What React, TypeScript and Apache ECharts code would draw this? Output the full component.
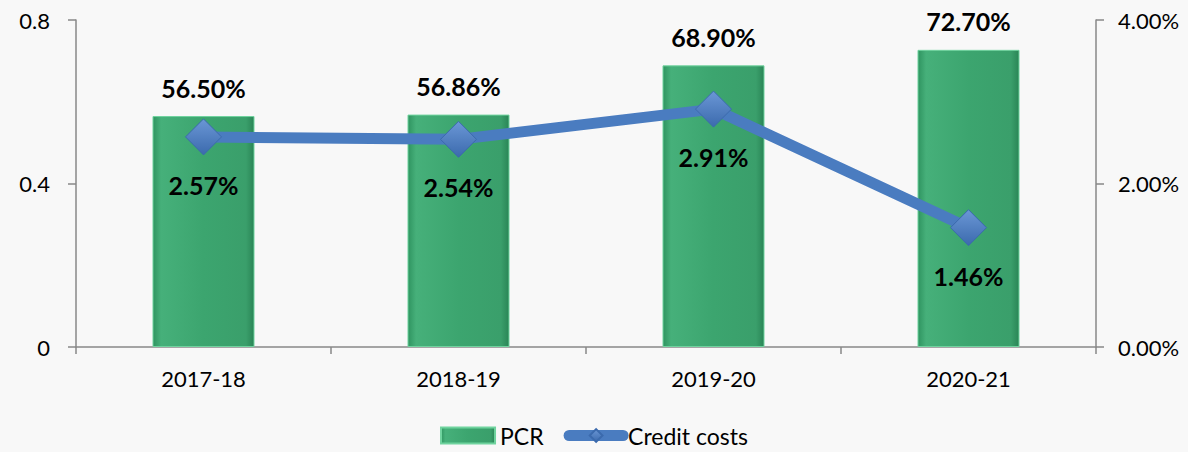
import React, { useEffect, useRef } from "react";
import * as echarts from "echarts";

const categories = ["2017-18", "2018-19", "2019-20", "2020-21"];
const pcrValues = [0.565, 0.5686, 0.689, 0.727];
const creditCosts = [2.57, 2.54, 2.91, 1.46];
const leftTicks = { min: 0, max: 0.8, interval: 0.4 };
const rightTicks = { min: 0, max: 4, interval: 2 };

const FONT = "Lato, 'Open Sans', sans-serif";

export default function App() {
  const ref = useRef<HTMLDivElement>(null);
  useEffect(() => {
    if (!ref.current) return;
    const chart = echarts.init(ref.current, undefined, { renderer: "svg" });
    chart.setOption({
      animation: false,
      backgroundColor: "#f8f8f8",
      textStyle: { fontFamily: FONT },
      grid: { left: 76, right: 92, top: 20, bottom: 105, containLabel: false },
      legend: {
        bottom: 0,
        left: "center",
        itemWidth: 54,
        itemHeight: 16,
        itemGap: 20,
        textStyle: { fontSize: 23, color: "#000", fontFamily: FONT },
        data: [
          { name: "PCR", icon: "rect" },
          { name: "Credit costs", lineStyle: { width: 11, color: "#4a7cc0", cap: "round" } },
        ],
      },
      xAxis: {
        type: "category",
        data: categories,
        axisLine: { lineStyle: { color: "#888", width: 1.5 } },
        axisTick: { show: true, length: 7, lineStyle: { color: "#888", width: 1.5 } },
        axisLabel: { fontSize: 22, color: "#000", margin: 20, fontFamily: FONT },
      },
      yAxis: [
        {
          type: "value",
          min: leftTicks.min,
          max: leftTicks.max,
          interval: leftTicks.interval,
          splitLine: { show: false },
          axisLine: { show: true, lineStyle: { color: "#888", width: 1.5 } },
          axisTick: { show: true, length: 8, lineStyle: { color: "#888", width: 1.5 } },
          axisLabel: { fontSize: 22, color: "#000", margin: 26, fontFamily: FONT },
        },
        {
          type: "value",
          min: rightTicks.min,
          max: rightTicks.max,
          interval: rightTicks.interval,
          splitLine: { show: false },
          axisLine: { show: true, lineStyle: { color: "#888", width: 1.5 } },
          axisTick: { show: true, length: 8, lineStyle: { color: "#888", width: 1.5 } },
          axisLabel: {
            fontSize: 22,
            color: "#000",
            margin: 22,
            fontFamily: FONT,
            formatter: (v: number) => v.toFixed(2) + "%",
          },
        },
      ],
      series: [
        {
          name: "PCR",
          type: "bar",
          yAxisIndex: 0,
          barWidth: "40%",
          data: pcrValues,
          itemStyle: {
            color: new echarts.graphic.LinearGradient(0, 0, 1, 0, [
              { offset: 0, color: "#2f9460" },
              { offset: 0.08, color: "#46b07a" },
              { offset: 0.5, color: "#3ca56f" },
              { offset: 0.92, color: "#3a9f6b" },
              { offset: 1, color: "#2a8556" },
            ]),
            borderColor: "#6fd39e",
            borderWidth: 1,
          },
          label: {
            show: true,
            position: "top",
            distance: 16,
            fontSize: 25,
            fontWeight: "bold",
            color: "#000",
            fontFamily: FONT,
            formatter: (p: any) => (p.value * 100).toFixed(2) + "%",
          },
        },
        {
          name: "Credit costs",
          type: "line",
          yAxisIndex: 1,
          data: creditCosts,
          symbol: "diamond",
          symbolSize: 36,
          lineStyle: { color: "#4a7cc0", width: 11 },
          itemStyle: {
            color: new echarts.graphic.LinearGradient(0, 0, 0, 1, [
              { offset: 0, color: "#6b97d6" },
              { offset: 1, color: "#3b6aad" },
            ]),
            borderColor: "#3b6aad",
            borderWidth: 1,
          },
          label: {
            show: true,
            position: "bottom",
            distance: 17,
            fontSize: 25,
            fontWeight: "bold",
            color: "#000",
            fontFamily: FONT,
            formatter: (p: any) => p.value.toFixed(2) + "%",
          },
        },
      ],
    });
    return () => chart.dispose();
  }, []);
  return <div ref={ref} style={{ width: 1188, height: 452, position: "absolute", left: 0, top: 0 }} />;
}
